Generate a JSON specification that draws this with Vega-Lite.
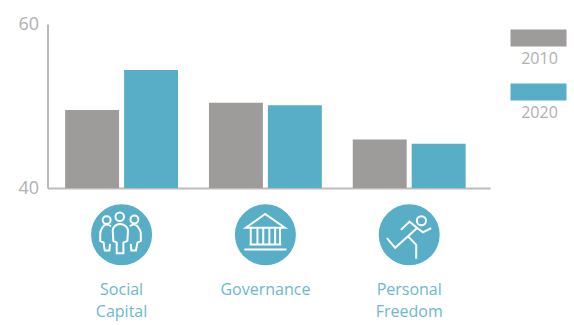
{
"$schema":"https://vega.github.io/schema/vega-lite/v6.json",
"width":442.5,"height":164,"autosize":"none",
"padding":{"left":47.5,"top":24,"right":84,"bottom":137},
"background":"white",
"config":{"view":{"stroke":null},"font":"Open Sans"},
"datasets":{
"bars":[
{"topic":"Social Capital","year":"2010","score":49.5},
{"topic":"Social Capital","year":"2020","score":54.4},
{"topic":"Governance","year":"2010","score":50.4},
{"topic":"Governance","year":"2020","score":50.1},
{"topic":"Personal Freedom","year":"2010","score":45.9},
{"topic":"Personal Freedom","year":"2020","score":45.4}
],
"icons":[
{"topic":"Social Capital","icon":"people"},
{"topic":"Governance","icon":"bank"},
{"topic":"Personal Freedom","icon":"runner"}
]},
"encoding":{
"x":{"field":"topic","type":"nominal","sort":["Social Capital","Governance","Personal Freedom"],
"scale":{"paddingInner":0.215,"paddingOuter":0.146,"align":0.42},
"axis":{"title":null,"ticks":false,"domainColor":"#bbbbbb","domainWidth":2,"labelAngle":0,"labelColor":"#6db8cd","labelFont":"Open Sans","labelFontSize":16,"labelFontWeight":400,"labelPadding":101,"labelLineHeight":22,"labelBaseline":"middle","labelExpr":"split(datum.value,' ')"}}
},
"layer":[
{"data":{"name":"bars"},"mark":{"type":"bar"},
"encoding":{
"xOffset":{"field":"year","type":"nominal","scale":{"paddingInner":0.085,"paddingOuter":0}},
"y":{"field":"score","type":"quantitative","scale":{"domain":[40,60],"nice":false},
"axis":{"title":null,"values":[40,60],"ticks":false,"grid":false,"domainColor":"#bbbbbb","domainWidth":2,"labelColor":"#b0b0b0","labelFont":"Open Sans","labelFontSize":18,"labelFontWeight":400,"labelPadding":9}},
"y2":{"datum":40},
"color":{"field":"year","type":"nominal","scale":{"domain":["2010","2020"],"range":["#9d9c9a","#58aec6"]},
"legend":{"title":null,"orient":"none","legendX":466,"legendY":10,"symbolType":"M-1.12,-1.18H1.12V-0.5H-1.12Z","symbolSize":2500,"symbolStrokeWidth":0,"rowPadding":16,"labelAlign":"center","labelOffset":-24,"labelFont":"Open Sans","labelFontSize":16,"labelFontWeight":400,"labelColor":"#b0b0b0"}}
}},
{"data":{"name":"icons"},"mark":{"type":"point","filled":true,"shape":"circle","size":3721,"color":"#58aec6","opacity":1},
"encoding":{"y":{"datum":34.3}}},
{"data":{"name":"icons"},"mark":{"type":"point","filled":false,"stroke":"white","strokeWidth":2,"opacity":1,"size":3721},
"encoding":{"y":{"datum":34.3},
"shape":{"field":"icon","type":"nominal","legend":null,"scale":{"domain":["people","bank","runner"],"range":[
"M-0.2,-0.59a0.14,0.14 0 1,0 0.28,0a0.14,0.14 0 1,0 -0.28,0M-0.62,-0.48a0.13,0.13 0 1,0 0.26,0a0.13,0.13 0 1,0 -0.26,0M0.29,-0.5a0.13,0.13 0 1,0 0.26,0a0.13,0.13 0 1,0 -0.26,0M-0.05,-0.35C-0.18,-0.35 -0.29,-0.25 -0.29,-0.13L-0.27,0.2L-0.16,0.26L-0.16,0.61L0.06,0.61L0.06,0.26L0.19,0.2L0.21,-0.13C0.21,-0.25 0.08,-0.35 -0.05,-0.35ZM-0.35,-0.28C-0.43,-0.34 -0.53,-0.34 -0.58,-0.3C-0.65,-0.22 -0.7,-0.14 -0.7,-0.04L-0.7,0.2L-0.59,0.26L-0.55,0.52L-0.4,0.52L-0.38,0.3M0.27,-0.28C0.35,-0.34 0.45,-0.34 0.5,-0.3C0.57,-0.22 0.63,-0.14 0.63,-0.04L0.63,0.2L0.52,0.26L0.47,0.52L0.32,0.52L0.3,0.3",
"M-0.01,-0.68L-0.64,-0.23L0.64,-0.23ZM-0.48,-0.2V0.3M-0.26,-0.2V0.3M-0.07,-0.2V0.3M0.13,-0.2V0.3M0.32,-0.2V0.3M0.48,-0.2V0.3M-0.52,0.32H0.52M-0.69,0.48H0.69",
"M0.25,-0.46a0.15,0.15 0 1,0 0.3,0a0.15,0.15 0 1,0 -0.3,0M-0.27,-0.16L0.01,-0.43L0.26,-0.22L-0.04,0.05L-0.46,0.43L-0.73,0.11M0.26,-0.22L0.45,-0.08L0.72,-0.22M-0.04,0.05L0.23,0.33L0.23,0.79"
]}}}}
]
}
